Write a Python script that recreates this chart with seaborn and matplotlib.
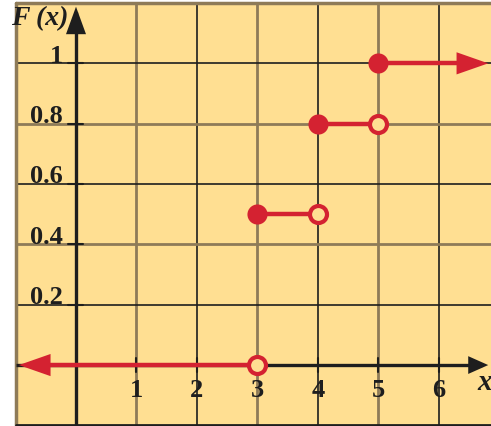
import matplotlib
matplotlib.use("Agg")
import matplotlib.pyplot as plt
import seaborn as sns
import pandas as pd

# ---- data ----
jump_x = [3, 4, 5]                 # jump points of F(x)
left_val = [0.0, 0.5, 0.8]         # value just before each jump (open circle)
right_val = [0.5, 0.8, 1.0]        # value at the jump (filled circle)
seg_start = [3, 4, 5]
seg_end = [4, 5]
x_ticks = [1, 2, 3, 4, 5, 6]
y_ticks = [0.2, 0.4, 0.6, 0.8, 1.0]
y_tick_labels = ["0.2", "0.4", "0.6", "0.8", "1"]

RED = "#D42231"
YELLOW = "#FFDF92"
BROWN = "#8E7B58"
DARK = "#1E1E1E"

sns.set_theme(style="white")
plt.rcParams["font.family"] = ["Liberation Serif", "DejaVu Serif"]

fig = plt.figure(figsize=(4.91, 4.27), dpi=100)
fig.patch.set_facecolor("white")
XMIN, XMAX = -1.0, 6.86
YMIN, YMAX = -0.2, 1.2
ax = fig.add_axes([15.5 / 491, 1 - 426.4 / 427, 1 - 15.5 / 491, (426.4 - 4) / 427])
ax.set_xlim(XMIN, XMAX)
ax.set_ylim(YMIN, YMAX)
ax.set_facecolor(YELLOW)
for s in ax.spines.values():
    s.set_visible(False)
ax.set_xticks([])
ax.set_yticks([])

# grid: alternating brown / dark lines
for xv in [1, 2, 3, 4, 5, 6]:
    if xv % 2 == 1:
        ax.axvline(xv, color=BROWN, lw=2.0, zorder=1)
    else:
        ax.axvline(xv, color=DARK, lw=1.2, zorder=1)
for yv, c in [(1.0, DARK), (0.8, BROWN), (0.6, DARK), (0.4, BROWN), (0.2, DARK)]:
    if c == BROWN:
        ax.axhline(yv, color=BROWN, lw=2.0, zorder=1)
    else:
        ax.axhline(yv, color=DARK, lw=1.2, zorder=1)
# borders
ax.axvline(XMIN, color=BROWN, lw=2.5, zorder=1, clip_on=False)
ax.axhline(YMAX, color=BROWN, lw=2.5, zorder=1, clip_on=False)
ax.axhline(YMIN, color=DARK, lw=2.0, zorder=1, clip_on=False)

# axes with arrows
ax.plot([0, 0], [YMIN, YMAX - 0.03], color=DARK, lw=2.4, zorder=3, solid_capstyle="butt")
ax.annotate("", xy=(0, YMAX - 0.003), xytext=(0, YMAX - 0.08),
            arrowprops=dict(arrowstyle="-|>,head_length=1.1,head_width=0.4",
                            color=DARK, lw=0, mutation_scale=18), zorder=4)
ax.plot([XMIN, XMAX - 0.15], [0, 0], color=DARK, lw=2.4, zorder=3, solid_capstyle="butt")
ax.annotate("", xy=(XMAX, 0), xytext=(XMAX - 0.4, 0),
            arrowprops=dict(arrowstyle="-|>,head_length=0.9,head_width=0.4",
                            color=DARK, lw=0, mutation_scale=16), zorder=4,
            annotation_clip=False)

# ticks
for xv in x_ticks:
    ax.plot([xv, xv], [-0.024, 0.024], color=DARK, lw=1.5, zorder=3)
    ax.text(xv, -0.08, str(xv), ha="center", va="center", fontsize=19,
            fontweight="bold", color=DARK, zorder=5)
for yv, lab in zip(y_ticks, y_tick_labels):
    ax.plot([-0.13, 0.12], [yv, yv], color=DARK, lw=1.5, zorder=3)
    ax.text(-0.22, yv + 0.006, lab, ha="right", va="baseline", fontsize=19,
            fontweight="bold", color=DARK, zorder=5)

ax.text(-1.07, 1.153, "F (x)", ha="left", va="center", fontsize=20,
        fontweight="bold", fontstyle="italic", color=DARK, zorder=5, clip_on=False)
ax.text(6.64, -0.055, "x", ha="left", va="center", fontsize=21,
        fontweight="bold", fontstyle="italic", color=DARK, zorder=5, clip_on=False)

# ---- step function ----
segs = []
segs.append(pd.DataFrame({"x": [XMIN + 0.3, jump_x[0]], "y": [left_val[0]] * 2, "seg": 0}))
for i, (a, b) in enumerate(zip(seg_start[:-1], seg_end)):
    segs.append(pd.DataFrame({"x": [a, b], "y": [right_val[i]] * 2, "seg": i + 1}))
segs.append(pd.DataFrame({"x": [seg_start[-1], XMAX - 0.3], "y": [right_val[-1]] * 2, "seg": 9}))
df_lines = pd.concat(segs, ignore_index=True)
sns.lineplot(data=df_lines, x="x", y="y", units="seg", estimator=None, color=RED,
             lw=3.2, ax=ax, zorder=6, legend=False)

# arrow heads of the step function
ax.annotate("", xy=(XMIN + 0.01, 0), xytext=(XMIN + 0.45, 0),
            arrowprops=dict(arrowstyle="-|>,head_length=1.2,head_width=0.42",
                            color=RED, lw=0, mutation_scale=19), zorder=7)
ax.annotate("", xy=(XMAX, 1.0), xytext=(XMAX - 0.45, 1.0),
            arrowprops=dict(arrowstyle="-|>,head_length=1.2,head_width=0.42",
                            color=RED, lw=0, mutation_scale=19), zorder=7,
            annotation_clip=False)

df_open = pd.DataFrame({"x": jump_x, "y": left_val})
df_fill = pd.DataFrame({"x": jump_x, "y": right_val})
sns.scatterplot(data=df_open, x="x", y="y", s=150, facecolor=YELLOW, edgecolor=RED,
                linewidth=3.0, ax=ax, zorder=8)
sns.scatterplot(data=df_fill, x="x", y="y", s=210, color=RED, edgecolor=RED,
                linewidth=0, ax=ax, zorder=8)
ax.set_xlabel("")
ax.set_ylabel("")

fig.savefig("out.png", dpi=100, facecolor="white")
